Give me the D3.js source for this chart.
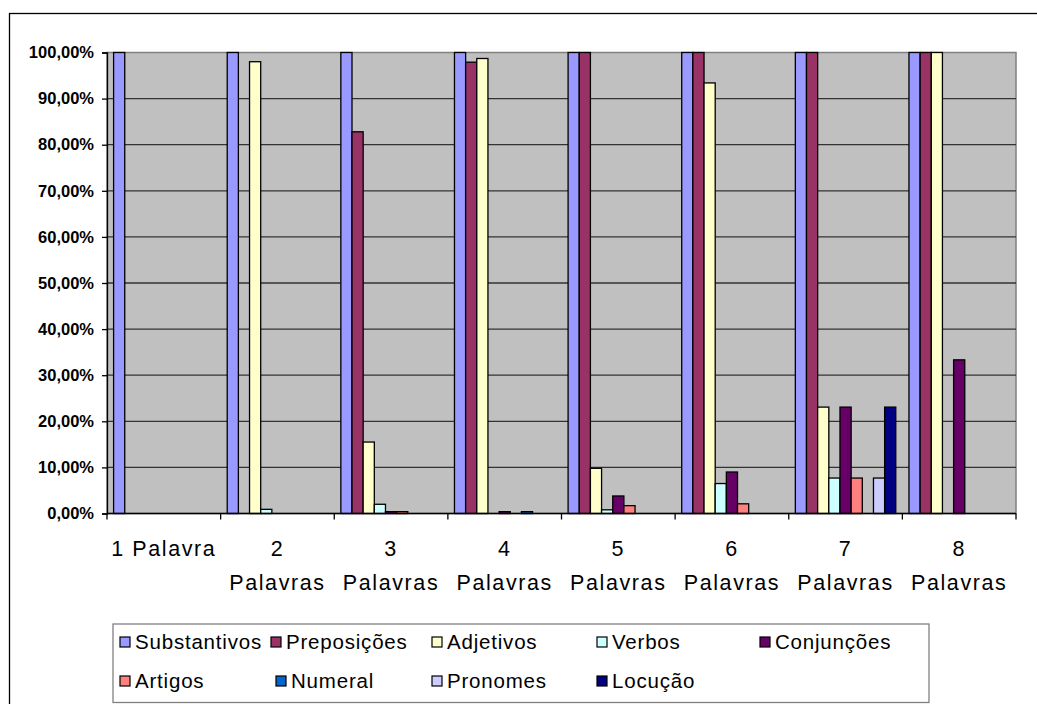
<!DOCTYPE html>
<html><head><meta charset="utf-8">
<script src="https://cdn.jsdelivr.net/npm/d3@7"></script>
<style>body{margin:0;background:#fff}svg{display:block}</style>
</head><body>
<svg id="c" width="1037" height="704"></svg>
<script>
const categories = ["1 Palavra","2 Palavras","3 Palavras","4 Palavras","5 Palavras","6 Palavras","7 Palavras","8 Palavras"];
const categoryLines = [["1 Palavra"],["2","Palavras"],["3","Palavras"],["4","Palavras"],["5","Palavras"],["6","Palavras"],["7","Palavras"],["8","Palavras"]];
const seriesNames = ["Substantivos","Preposições","Adjetivos","Verbos","Conjunções","Artigos","Numeral","Pronomes","Locução"];
const seriesColors = ["#9999FF","#993366","#FFFFCC","#CCFFFF","#660066","#FF8080","#0066CC","#CCCCFF","#000080"];
const substantivos = [100,100,100,100,100,100,100,100];
const preposicoes  = [0,0,82.8,97.9,100,100,100,100];
const adjetivos    = [0,98,15.5,98.7,9.8,93.4,23.08,100];
const verbos       = [0,0.9,2,0,0.8,6.5,7.69,0];
const conjuncoes   = [0,0,0.4,0.4,3.8,9,23.08,33.33];
const artigos      = [0,0,0.4,0,1.7,2.1,7.69,0];
const numeral      = [0,0,0,0.4,0,0,0,0];
const pronomes     = [0,0,0,0,0,0,7.69,0];
const locucao      = [0,0,0,0,0,0,23.08,0];
const seriesValues = [substantivos,preposicoes,adjetivos,verbos,conjuncoes,artigos,numeral,pronomes,locucao];
const yTicks = [0,10,20,30,40,50,60,70,80,90,100];
const fmt = v => v.toFixed(2).replace(".", ",") + "%";
const FONT = "'Liberation Sans', Arial, sans-serif";

const svg = d3.select("#c");
const L = 107, R = 1016, T = 52.5, B = 513.5;
const x0 = d3.scaleBand().domain(categories).range([L, R]).padding(0);
const bw = x0.bandwidth();
const pad = bw * 0.058;
const x1 = d3.scaleBand().domain(seriesNames).range([pad, bw - pad]).padding(0);
const y = d3.scaleLinear().domain([0, 100]).range([B, T]);

// outer chart border
svg.append("rect").attr("x", 9.5).attr("y", 13.5).attr("width", 1100).attr("height", 800)
  .attr("fill", "#fff").attr("stroke", "#000").attr("stroke-width", 1.3);

// plot area
svg.append("rect").attr("x", L).attr("y", T).attr("width", R - L).attr("height", B - T)
  .attr("fill", "#C0C0C0").attr("stroke", "#808080").attr("stroke-width", 1.5);

// gridlines
svg.append("g").selectAll("line").data(yTicks.filter(t => t > 0 && t < 100)).join("line")
  .attr("x1", L).attr("x2", R).attr("y1", d => y(d)).attr("y2", d => y(d))
  .attr("stroke", "#333").attr("stroke-width", 1.3);

// bars
const gBars = svg.append("g");
categories.forEach((c, ci) => {
  seriesNames.forEach((s, si) => {
    const v = seriesValues[si][ci];
    if (v <= 0) return;
    gBars.append("rect")
      .attr("x", x0(c) + x1(s)).attr("width", x1.bandwidth())
      .attr("y", y(v)).attr("height", y(0) - y(v))
      .attr("fill", seriesColors[si]).attr("stroke", "#000").attr("stroke-width", 1.3);
  });
});

// y axis
const yAxis = svg.append("g").attr("transform", `translate(${L},0)`)
  .call(d3.axisLeft(y).tickValues(yTicks).tickFormat(fmt).tickSize(5).tickPadding(8));
yAxis.select(".domain").attr("stroke", "#000").attr("stroke-width", 1.3);
yAxis.selectAll(".tick line").attr("stroke", "#000").attr("stroke-width", 1.3);
yAxis.selectAll("text").attr("font-family", FONT)
  .attr("font-size", 16.5).attr("font-weight", "bold").attr("fill", "#000");

// x axis
svg.append("line").attr("x1", L).attr("x2", R).attr("y1", B).attr("y2", B).attr("stroke", "#000").attr("stroke-width", 1.3);
const bounds = categories.map(c => x0(c)).concat([R]);
svg.append("g").selectAll("line").data(bounds).join("line")
  .attr("x1", d => d).attr("x2", d => d).attr("y1", B).attr("y2", B + 6)
  .attr("stroke", "#000").attr("stroke-width", 1.3);
const xl = svg.append("g").selectAll("text").data(categories).join("text")
  .attr("x", d => x0(d) + bw / 2).attr("y", 556)
  .attr("text-anchor", "middle")
  .attr("font-family", FONT).attr("font-size", 21.5).attr("letter-spacing", 1.6).attr("fill", "#000");
xl.each(function(d, i) {
  const t = d3.select(this);
  categoryLines[i].forEach((ln, li) => {
    t.append("tspan").attr("x", x0(d) + bw / 2).attr("dy", li === 0 ? 0 : 34).text(ln);
  });
});

// legend
svg.append("rect").attr("x", 113).attr("y", 624).attr("width", 816).attr("height", 78.5)
  .attr("fill", "#fff").attr("stroke", "#808080").attr("stroke-width", 1.3);
const legendPos = [[120,642],[271,642],[432,642],[597,642],[760,642],[120,681],[276,681],[432,681],[597,681]];
seriesNames.forEach((s, i) => {
  const [lx, ly] = legendPos[i];
  svg.append("rect").attr("x", lx).attr("y", ly - 5).attr("width", 10).attr("height", 10)
    .attr("fill", seriesColors[i]).attr("stroke", "#000").attr("stroke-width", 1.2);
  svg.append("text").attr("x", lx + 15).attr("y", ly + 7).text(s)
    .attr("font-family", FONT).attr("font-size", 20.5).attr("letter-spacing", 0.8).attr("fill", "#000");
});
</script>
</body></html>
